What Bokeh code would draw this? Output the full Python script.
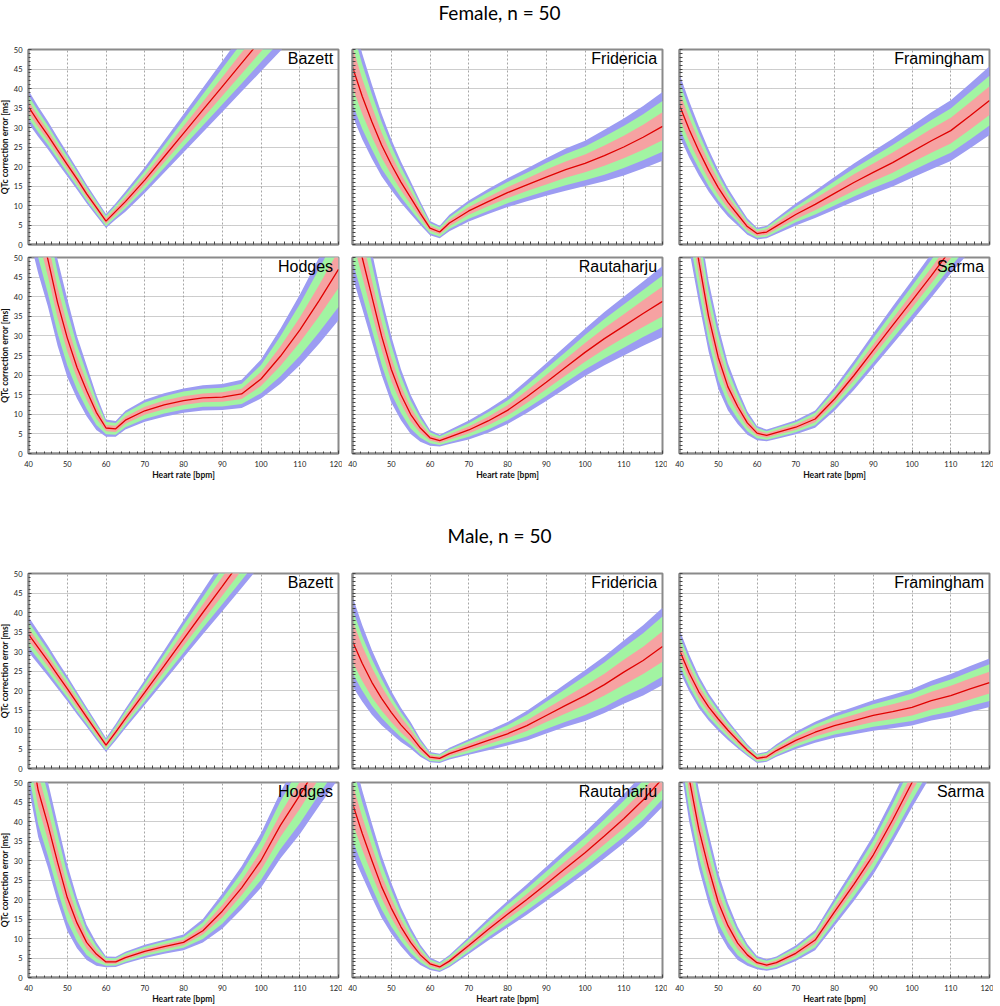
import numpy as np
from bokeh.plotting import figure
from bokeh.layouts import column, row
from bokeh.models import Range1d, FixedTicker, Label
from bokeh.embed import file_html
from bokeh.resources import INLINE

# ---------------- data ----------------
HR = [40, 42.5, 45, 47.5, 50, 52.5, 55, 57.5, 60, 62.5, 65, 70, 75, 80, 85, 90, 95, 100, 105, 110, 115, 120]
X_TICKS = [40, 50, 60, 70, 80, 90, 100, 110, 120]
Y_TICKS = [0, 5, 10, 15, 20, 25, 30, 35, 40, 45, 50]
X_MINOR = list(range(40, 121, 2))
Y_MINOR = list(range(0, 51, 1))
TITLE_F = "Female, n = 50"
TITLE_M = "Male, n = 50"
NAMES = ["Bazett", "Fridericia", "Framingham", "Hodges", "Rautaharju", "Sarma"]

# Female
F_BAZ_MED = [35.3, 31.5, 28, 24.2, 20.5, 16.8, 13, 9.5, 6, 8.5, 11, 16.5, 22.5, 28.5, 34.5, 40.5, 46.5, 52.5, 58.5, 64.5, 70.5, 76.5]
F_BAZ_R = [1.5, 1.4, 1.3, 1.2, 1.1, 1.0, 0.9, 0.8, 0.7, 0.8, 1.0, 1.2, 1.5, 1.8, 2.1, 2.4, 2.7, 3.0, 3.3, 3.6, 3.9, 4.2]
F_BAZ_G = [2.9, 2.7, 2.5, 2.3, 2.1, 1.9, 1.7, 1.5, 1.3, 1.5, 1.8, 2.3, 2.9, 3.4, 4.0, 4.6, 5.2, 5.7, 6.3, 6.9, 7.5, 8.1]
F_BAZ_B = [4.2, 3.9, 3.6, 3.3, 3.0, 2.7, 2.4, 2.1, 1.8, 2.1, 2.6, 3.3, 4.1, 4.9, 5.7, 6.5, 7.3, 8.1, 8.9, 9.7, 10.5, 11.3]

F_FRI_MED = [45.5, 38, 31.5, 25.5, 20.5, 16, 12, 8, 4.2, 3.2, 5.5, 8.6, 11, 13.3, 15.3, 17.3, 19.2, 20.8, 22.8, 25, 27.5, 30.3]
F_FRI_R = [5.2, 4.5, 3.9, 3.2, 2.6, 2.1, 1.7, 1.2, 0.7, 0.6, 0.8, 1.0, 1.2, 1.4, 1.6, 1.9, 2.1, 2.3, 2.6, 2.9, 3.2, 3.6]
F_FRI_G = [9.5, 8.3, 7.1, 6.0, 4.8, 3.9, 3.1, 2.2, 1.3, 1.2, 1.5, 2.0, 2.4, 2.7, 3.1, 3.6, 4.0, 4.3, 4.9, 5.4, 5.9, 6.5]
F_FRI_B = [12.5, 11, 9.5, 8, 6.5, 5.3, 4.2, 3.0, 1.8, 1.6, 2.1, 2.7, 3.2, 3.7, 4.2, 4.8, 5.4, 5.8, 6.6, 7.3, 8.0, 8.8]

F_FRA_MED = [35.7, 29.5, 24, 19, 14.6, 10.8, 7.7, 4.6, 2.8, 3.2, 4.7, 7.7, 10.3, 13.1, 15.9, 18.5, 21, 23.8, 26.6, 29.2, 33, 36.9]
F_FRA_R = [3.4, 3.0, 2.6, 2.3, 1.9, 1.5, 1.2, 0.9, 0.6, 0.7, 0.8, 1.2, 1.5, 1.8, 2.1, 2.3, 2.6, 2.8, 3.1, 3.3, 3.5, 3.7]
F_FRA_G = [5.9, 5.3, 4.6, 4.0, 3.3, 2.6, 2.0, 1.5, 1.1, 1.2, 1.5, 2.0, 2.6, 3.1, 3.6, 4.0, 4.5, 4.9, 5.3, 5.7, 6.1, 6.4]
F_FRA_B = [8, 7.2, 6.3, 5.4, 4.5, 3.6, 2.8, 2.1, 1.5, 1.6, 2.0, 2.8, 3.5, 4.2, 4.9, 5.5, 6.1, 6.7, 7.3, 7.8, 8.3, 8.8]

F_HOD_MED = [72, 60, 49.5, 38.5, 29.5, 22, 16, 10.5, 6.5, 6.3, 8.5, 10.9, 12.4, 13.5, 14.2, 14.4, 15.2, 19, 24.8, 31.5, 39, 47]
F_HOD_R = [5.5, 5, 4.3, 3.9, 3.4, 2.8, 2.3, 1.6, 0.8, 0.8, 0.9, 1.0, 1.1, 1.1, 1.1, 1.2, 1.3, 1.8, 2.5, 3.2, 4.0, 4.8]
F_HOD_G = [11.5, 10, 8.7, 7.8, 7.0, 5.7, 4.6, 3.2, 1.6, 1.5, 1.8, 2.1, 2.2, 2.3, 2.3, 2.4, 2.6, 3.6, 5.1, 6.6, 8.1, 9.6]
F_HOD_B = [16, 14, 12, 11, 10, 8, 6.5, 4.5, 2.2, 2.0, 2.4, 2.8, 3.0, 3.1, 3.2, 3.3, 3.6, 5.0, 7.0, 9.0, 11.0, 13.0]

F_RAU_MED = [60, 50, 40, 30, 21.5, 15, 10, 6.5, 4, 3.3, 4.2, 6, 8.3, 11, 14.5, 18.2, 22, 25.8, 29.3, 32.5, 35.7, 38.8]
F_RAU_R = [5.5, 4.8, 4.2, 3.6, 3.0, 2.3, 1.8, 1.3, 0.7, 0.6, 0.7, 0.9, 1.1, 1.3, 1.6, 1.8, 2.1, 2.4, 2.7, 3.0, 3.4, 3.8]
F_RAU_G = [11, 9.5, 8.4, 7.3, 6.2, 4.7, 3.6, 2.5, 1.4, 1.1, 1.3, 1.7, 2.2, 2.5, 3.0, 3.5, 3.9, 4.4, 5.0, 5.5, 6.0, 6.6]
F_RAU_B = [15, 13, 11.5, 10, 8.5, 6.5, 5, 3.5, 2, 1.5, 1.8, 2.4, 3.0, 3.5, 4.2, 4.8, 5.4, 6.0, 6.8, 7.5, 8.2, 9.0]

F_SAR_MED = [80, 64, 49, 35, 24.5, 17, 12, 7.8, 5.2, 4.6, 5.3, 6.7, 8.8, 13.9, 19.9, 26.3, 32.7, 39, 45.4, 52, 58, 64]
F_SAR_R = [5, 4.3, 3.7, 3.2, 2.8, 2.1, 1.6, 1.1, 0.7, 0.6, 0.6, 0.7, 0.8, 1.1, 1.3, 1.5, 1.7, 1.9, 2.0, 2.2, 2.3, 2.5]
F_SAR_G = [10, 8.6, 7.5, 6.4, 5.7, 4.3, 3.2, 2.1, 1.3, 1.1, 1.2, 1.3, 1.6, 2.1, 2.6, 3.1, 3.4, 3.7, 4.0, 4.3, 4.6, 4.9]
F_SAR_B = [14, 12, 10.5, 9, 8, 6, 4.5, 3, 1.8, 1.5, 1.6, 1.8, 2.2, 3.0, 3.7, 4.3, 4.8, 5.2, 5.6, 6.0, 6.4, 6.8]

# Male
M_BAZ_MED = [34.4, 31, 27.6, 24, 20.5, 16.8, 13.2, 9.6, 6, 9.3, 12.8, 19.5, 26.3, 33.2, 40, 46.7, 53.5, 60.3, 67, 74, 81, 88]
M_BAZ_R = [1.6, 1.5, 1.4, 1.3, 1.2, 1.1, 0.95, 0.85, 0.7, 0.8, 0.95, 1.2, 1.5, 1.8, 2.1, 2.4, 2.7, 3.0, 3.3, 3.6, 3.9, 4.2]
M_BAZ_G = [3.2, 3.0, 2.8, 2.5, 2.3, 2.1, 1.8, 1.6, 1.3, 1.5, 1.8, 2.3, 2.9, 3.5, 4.0, 4.6, 5.2, 5.8, 6.3, 6.9, 7.5, 8.1]
M_BAZ_B = [4.5, 4.2, 3.9, 3.5, 3.2, 2.9, 2.5, 2.2, 1.8, 2.1, 2.5, 3.2, 4.0, 4.8, 5.6, 6.4, 7.2, 8.0, 8.8, 9.6, 10.4, 11.2]

M_FRI_MED = [32.6, 27, 22.1, 18, 14.4, 11.2, 8.5, 5.3, 2.9, 2.6, 3.8, 5.5, 7.2, 8.9, 11, 13.6, 16.2, 18.7, 21.5, 24.7, 27.7, 31.3]
M_FRI_R = [5.3, 4.5, 3.8, 3.1, 2.5, 2.0, 1.5, 1.0, 0.55, 0.5, 0.6, 0.8, 0.95, 1.1, 1.4, 1.7, 2.1, 2.5, 2.8, 3.2, 3.5, 3.9]
M_FRI_G = [8.2, 7.0, 6.0, 5.0, 4.0, 3.2, 2.5, 1.7, 0.95, 0.9, 1.1, 1.5, 1.8, 2.2, 2.8, 3.5, 4.2, 5.0, 5.7, 6.3, 7.0, 7.7]
M_FRI_B = [11.5, 9.8, 8.3, 6.9, 5.5, 4.4, 3.4, 2.3, 1.3, 1.2, 1.5, 2.0, 2.5, 3.0, 3.8, 4.6, 5.5, 6.5, 7.3, 8.1, 9.0, 9.9]

M_FRA_MED = [30.3, 24.5, 19.6, 15.8, 12.7, 9.8, 7.2, 4.7, 2.6, 3.0, 4.6, 7.2, 9.3, 11, 12.3, 13.6, 14.6, 15.7, 17.4, 18.7, 20.4, 22]
M_FRA_R = [2.0, 1.8, 1.6, 1.4, 1.2, 1.0, 0.8, 0.6, 0.5, 0.55, 0.7, 0.9, 1.1, 1.3, 1.5, 1.7, 1.9, 2.1, 2.3, 2.5, 2.7, 2.8]
M_FRA_G = [3.8, 3.4, 3.0, 2.6, 2.2, 1.8, 1.5, 1.1, 0.9, 1.0, 1.2, 1.6, 2.0, 2.3, 2.6, 2.9, 3.2, 3.5, 3.8, 4.1, 4.4, 4.7]
M_FRA_B = [5.3, 4.7, 4.1, 3.5, 3.0, 2.5, 2.0, 1.5, 1.2, 1.3, 1.6, 2.2, 2.7, 3.1, 3.5, 3.9, 4.3, 4.7, 5.1, 5.5, 5.9, 6.2]

M_HOD_MED = [62, 48, 39.2, 29.5, 20.5, 14, 9, 6, 4, 4, 5.1, 6.7, 7.9, 9.0, 12, 17, 23, 30, 39, 46.7, 55, 63]
M_HOD_R = [4.6, 4.2, 3.9, 3.5, 3.0, 2.3, 1.6, 1.0, 0.5, 0.45, 0.55, 0.6, 0.65, 0.7, 1.0, 1.6, 1.9, 2.5, 3.0, 3.5, 3.9, 4.3]
M_HOD_G = [9.5, 8.7, 8.0, 7.2, 6.1, 4.7, 3.2, 2.1, 1.0, 0.95, 1.1, 1.2, 1.3, 1.4, 2.1, 3.2, 3.9, 5.0, 6.1, 7.2, 8.0, 8.7]
M_HOD_B = [13, 12, 11, 10, 8.5, 6.5, 4.5, 3, 1.4, 1.3, 1.5, 1.7, 1.8, 2.0, 3.0, 4.5, 5.5, 7.0, 8.5, 10, 11, 12]

M_RAU_MED = [44.6, 37, 30, 23.3, 17.8, 13, 9, 5.8, 3.5, 2.7, 4.2, 8.2, 12.3, 16.2, 20, 24, 28, 32, 36.3, 40.7, 45.5, 51]
M_RAU_R = [5, 4.2, 3.6, 3.0, 2.5, 1.9, 1.4, 1.0, 0.6, 0.5, 0.6, 0.8, 1.0, 1.2, 1.4, 1.6, 1.8, 2.0, 2.2, 2.4, 2.6, 2.8]
M_RAU_G = [9.5, 8, 6.9, 5.8, 4.7, 3.6, 2.7, 1.9, 1.1, 0.95, 1.2, 1.6, 2.0, 2.5, 2.8, 3.2, 3.6, 3.9, 4.2, 4.6, 5.0, 5.3]
M_RAU_B = [13, 11, 9.5, 8, 6.5, 5, 3.8, 2.6, 1.6, 1.3, 1.6, 2.2, 2.8, 3.4, 3.9, 4.4, 4.9, 5.3, 5.8, 6.3, 6.8, 7.2]

M_SAR_MED = [68, 51, 38, 28, 19.3, 13.3, 8.8, 5.8, 3.8, 3.2, 3.8, 6.2, 9.6, 16.8, 23.9, 31.4, 40.4, 50, 59, 68, 77, 86]
M_SAR_R = [4.3, 4.0, 3.6, 3.2, 2.7, 2.1, 1.5, 1.0, 0.6, 0.55, 0.6, 0.7, 0.95, 1.25, 1.5, 1.8, 2.0, 2.3, 2.5, 2.8, 3.0, 3.2]
M_SAR_G = [8.7, 8.0, 7.2, 6.5, 5.4, 4.2, 3.1, 2.0, 1.2, 1.1, 1.2, 1.4, 1.9, 2.5, 3.1, 3.6, 4.1, 4.6, 5.0, 5.5, 5.9, 6.3]
M_SAR_B = [12, 11, 10, 9, 7.5, 5.8, 4.3, 2.8, 1.7, 1.5, 1.6, 2.0, 2.6, 3.5, 4.3, 5.0, 5.7, 6.4, 7.0, 7.6, 8.2, 8.8]

# ---------------- styling ----------------
C_BLUE = "#9c9cf2"
C_GREEN = "#a2f4a2"
C_PINK = "#f6a2a2"
C_LINE = "#e00000"
AX_GRAY = "#8a8a8a"
FONT = "Lato"

LEFTS = [31, 10, 12]
RIGHTS = [4, 5, 4]


def style_axis(ax):
    ax.axis_line_color = AX_GRAY
    ax.axis_line_width = 2
    ax.major_tick_in = 3
    ax.major_tick_out = 0
    ax.minor_tick_in = 2
    ax.minor_tick_out = 0
    ax.major_tick_line_color = "#444444"
    ax.minor_tick_line_color = "#444444"
    ax.major_label_text_font = FONT
    ax.major_label_text_font_size = "7.5px"
    ax.major_label_text_color = "#222222"
    ax.axis_label_text_font = FONT
    ax.axis_label_text_font_size = "8.5px"
    ax.axis_label_text_font_style = "bold"
    ax.axis_label_text_color = "#111111"


def panel(name, med, rw, gw, bw, col, top, bottom, fh, bottom_row):
    p = figure(frame_width=310, frame_height=fh,
               x_range=Range1d(40, 120), y_range=Range1d(0, 50),
               toolbar_location=None, output_backend="svg",
               min_border_left=LEFTS[col], min_border_right=RIGHTS[col],
               min_border_top=top, min_border_bottom=bottom)
    p.outline_line_color = AX_GRAY
    p.outline_line_width = 2

    m = np.array(med, dtype=float)
    r = np.array(rw, dtype=float)
    g = np.array(gw, dtype=float)
    b = np.array(bw, dtype=float)
    p.varea(x=HR, y1=m - b, y2=m + b, fill_color=C_BLUE)
    p.varea(x=HR, y1=m - g, y2=m + g, fill_color=C_GREEN)
    p.varea(x=HR, y1=m - r, y2=m + r, fill_color=C_PINK)
    p.line(HR, med, line_color=C_LINE, line_width=1.3)

    style_axis(p.xaxis[0])
    style_axis(p.yaxis[0])

    # grids always follow the major ticks
    p.xgrid.ticker = FixedTicker(ticks=X_TICKS)
    p.ygrid.ticker = FixedTicker(ticks=Y_TICKS)
    p.xgrid.grid_line_color = "#a6a6a6"
    p.xgrid.grid_line_dash = "2 2"
    p.ygrid.grid_line_color = "#9a9a9a"
    p.ygrid.grid_line_dash = "1 1"

    if bottom_row:
        p.xaxis.ticker = FixedTicker(ticks=X_TICKS, minor_ticks=X_MINOR)
        p.xaxis.major_label_standoff = 7
        p.xaxis.axis_label = "Heart rate [bpm]"
        p.xaxis.axis_label_standoff = 0
    else:
        # tick marks only (no labels) on the top-row panels
        p.xaxis.ticker = FixedTicker(ticks=[], minor_ticks=X_MINOR)
        p.xaxis.minor_tick_in = 3
    if col == 0:
        p.yaxis.ticker = FixedTicker(ticks=Y_TICKS, minor_ticks=Y_MINOR)
        p.yaxis.major_label_standoff = 6
        p.yaxis.axis_label = "QTc correction error [ms]"
        p.yaxis.axis_label_standoff = 1
    else:
        p.yaxis.ticker = FixedTicker(ticks=[], minor_ticks=Y_MINOR)
        p.yaxis.minor_tick_in = 3

    p.add_layout(Label(x=118.6, y=49.8, text=name, text_align="right",
                       text_baseline="top", text_font="Liberation Sans",
                       text_font_size="16px", text_color="#000000"))
    return p


def title_fig(text, height, y_from_top):
    t = figure(width=996, height=height, x_range=Range1d(0, 1), y_range=Range1d(0, 1),
               toolbar_location=None, output_backend="svg", min_border=0,
               x_axis_location=None, y_axis_location=None)
    t.outline_line_color = None
    t.grid.visible = False
    t.add_layout(Label(x=503, y=height - y_from_top, x_units="screen", y_units="screen",
                       text=text, text_align="center", text_baseline="middle",
                       text_font=FONT, text_font_size="19px", text_color="#000000"))
    return t


FEMALE = [
    (F_BAZ_MED, F_BAZ_R, F_BAZ_G, F_BAZ_B),
    (F_FRI_MED, F_FRI_R, F_FRI_G, F_FRI_B),
    (F_FRA_MED, F_FRA_R, F_FRA_G, F_FRA_B),
    (F_HOD_MED, F_HOD_R, F_HOD_G, F_HOD_B),
    (F_RAU_MED, F_RAU_R, F_RAU_G, F_RAU_B),
    (F_SAR_MED, F_SAR_R, F_SAR_G, F_SAR_B),
]
MALE = [
    (M_BAZ_MED, M_BAZ_R, M_BAZ_G, M_BAZ_B),
    (M_FRI_MED, M_FRI_R, M_FRI_G, M_FRI_B),
    (M_FRA_MED, M_FRA_R, M_FRA_G, M_FRA_B),
    (M_HOD_MED, M_HOD_R, M_HOD_G, M_HOD_B),
    (M_RAU_MED, M_RAU_R, M_RAU_G, M_RAU_B),
    (M_SAR_MED, M_SAR_R, M_SAR_G, M_SAR_B),
]


def group_rows(data, geo):
    rows = []
    for ri in range(2):
        top, bottom, fh = geo[ri]
        figs = []
        for ci in range(3):
            k = ri * 3 + ci
            med, rw, gw, bw = data[k]
            figs.append(panel(NAMES[k], med, rw, gw, bw, ci, top, bottom, fh, ri == 1))
        rows.append(row(*figs))
    return rows


f_rows = group_rows(FEMALE, [(5, 7, 195), (6, 30, 196)])
m_rows = group_rows(MALE, [(5, 7, 195), (7, 27, 195)])

layout = column(title_fig(TITLE_F, 44, 12), f_rows[0], f_rows[1],
                title_fig(TITLE_M, 85, 52), m_rows[0], m_rows[1],
                margin=(0, -8, -8, -4))

open("out.html", "w").write(file_html(layout, INLINE))
